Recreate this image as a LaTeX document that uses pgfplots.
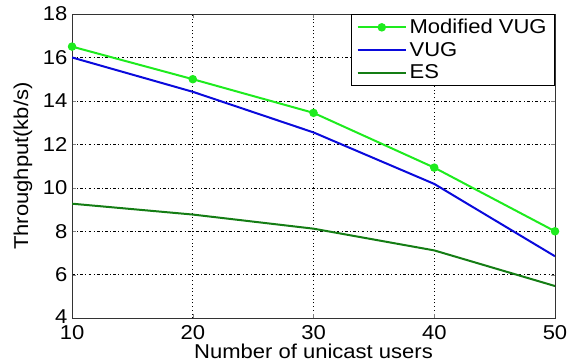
\documentclass[border=0pt]{standalone}
\usepackage{pgfplots}
\pgfplotsset{compat=1.18}
\usepackage{fontspec}
\setmainfont{Liberation Sans}[FakeStretch=1.1]

\definecolor{mvug}{RGB}{30,235,30}
\definecolor{vug}{RGB}{10,10,220}
\definecolor{es}{RGB}{20,125,20}

\begin{document}
\begin{tikzpicture}
\begin{axis}[
  scale only axis,
  width=362pt, height=228pt,
  xmin=10, xmax=50, ymin=4, ymax=18,
  xtick={10,20,30,40,50},
  ytick={4,6,8,10,12,14,16,18},
  font=\fontsize{15}{17}\selectfont,
  /pgf/number format/assume math mode=true,
  tick label style={font=\fontsize{15}{17}\selectfont},
  xticklabel style={anchor=north, yshift=-3pt, inner ysep=2pt},
  yticklabel style={inner ysep=1pt},
  yticklabel={\ifnum\ticknum=0\raisebox{3pt}{\pgfmathprintnumber{\tick}}\else\pgfmathprintnumber{\tick}\fi},
  xlabel={Number of unicast users},
  ylabel={Throughput(kb/s)},
  xlabel style={at={(axis description cs:0.5,0)}, anchor=north, yshift=-19.5pt, inner sep=0pt},
  ylabel style={yshift=1pt},
  tick align=inside,
  major tick length=3pt,
  axis line style={black!80, line width=0.6pt},
  grid=major,
  x grid style={black, line width=0.45pt, dash pattern=on 0.6pt off 2.2pt},
  y grid style={black, line width=0.4pt, dash pattern=on 2pt off 1.8pt on 0.6pt off 1.8pt},
  legend style={at={(1,1)}, anchor=north east, draw=black, line width=0.6pt,
    font=\fontsize{15}{17}\selectfont, row sep=1pt, inner xsep=4pt, inner ysep=1.5pt,
    cells={anchor=west}},
  legend image code/.code={
    \draw[#1, line width=1.5pt] (0cm,0cm) -- (1.27cm,0cm);
    \path[#1] plot coordinates {(0.635cm,0cm)};
  },
]
\addplot[color=mvug, line width=1.5pt, mark=*, mark size=2.4pt] coordinates {
  (10,16.5) (20,15.0) (30,13.45) (40,10.93) (50,8.0)
};
\addlegendentry{Modified VUG}
\addplot[color=vug, line width=1.5pt] coordinates {
  (10,16.0) (20,14.42) (30,12.55) (40,10.18) (50,6.85)
};
\addlegendentry{VUG}
\addplot[color=es, line width=1.5pt] coordinates {
  (10,9.27) (20,8.77) (30,8.12) (40,7.12) (50,5.48)
};
\addlegendentry{ES}
\end{axis}
\pgfresetboundingbox
\path (current axis.south west) ++(-54pt,-33pt) coordinate (bbsw);
\path (current axis.north east) ++(9pt,10.5pt) coordinate (bbne);
\useasboundingbox (bbsw) rectangle (bbne);
\end{tikzpicture}
\end{document}
